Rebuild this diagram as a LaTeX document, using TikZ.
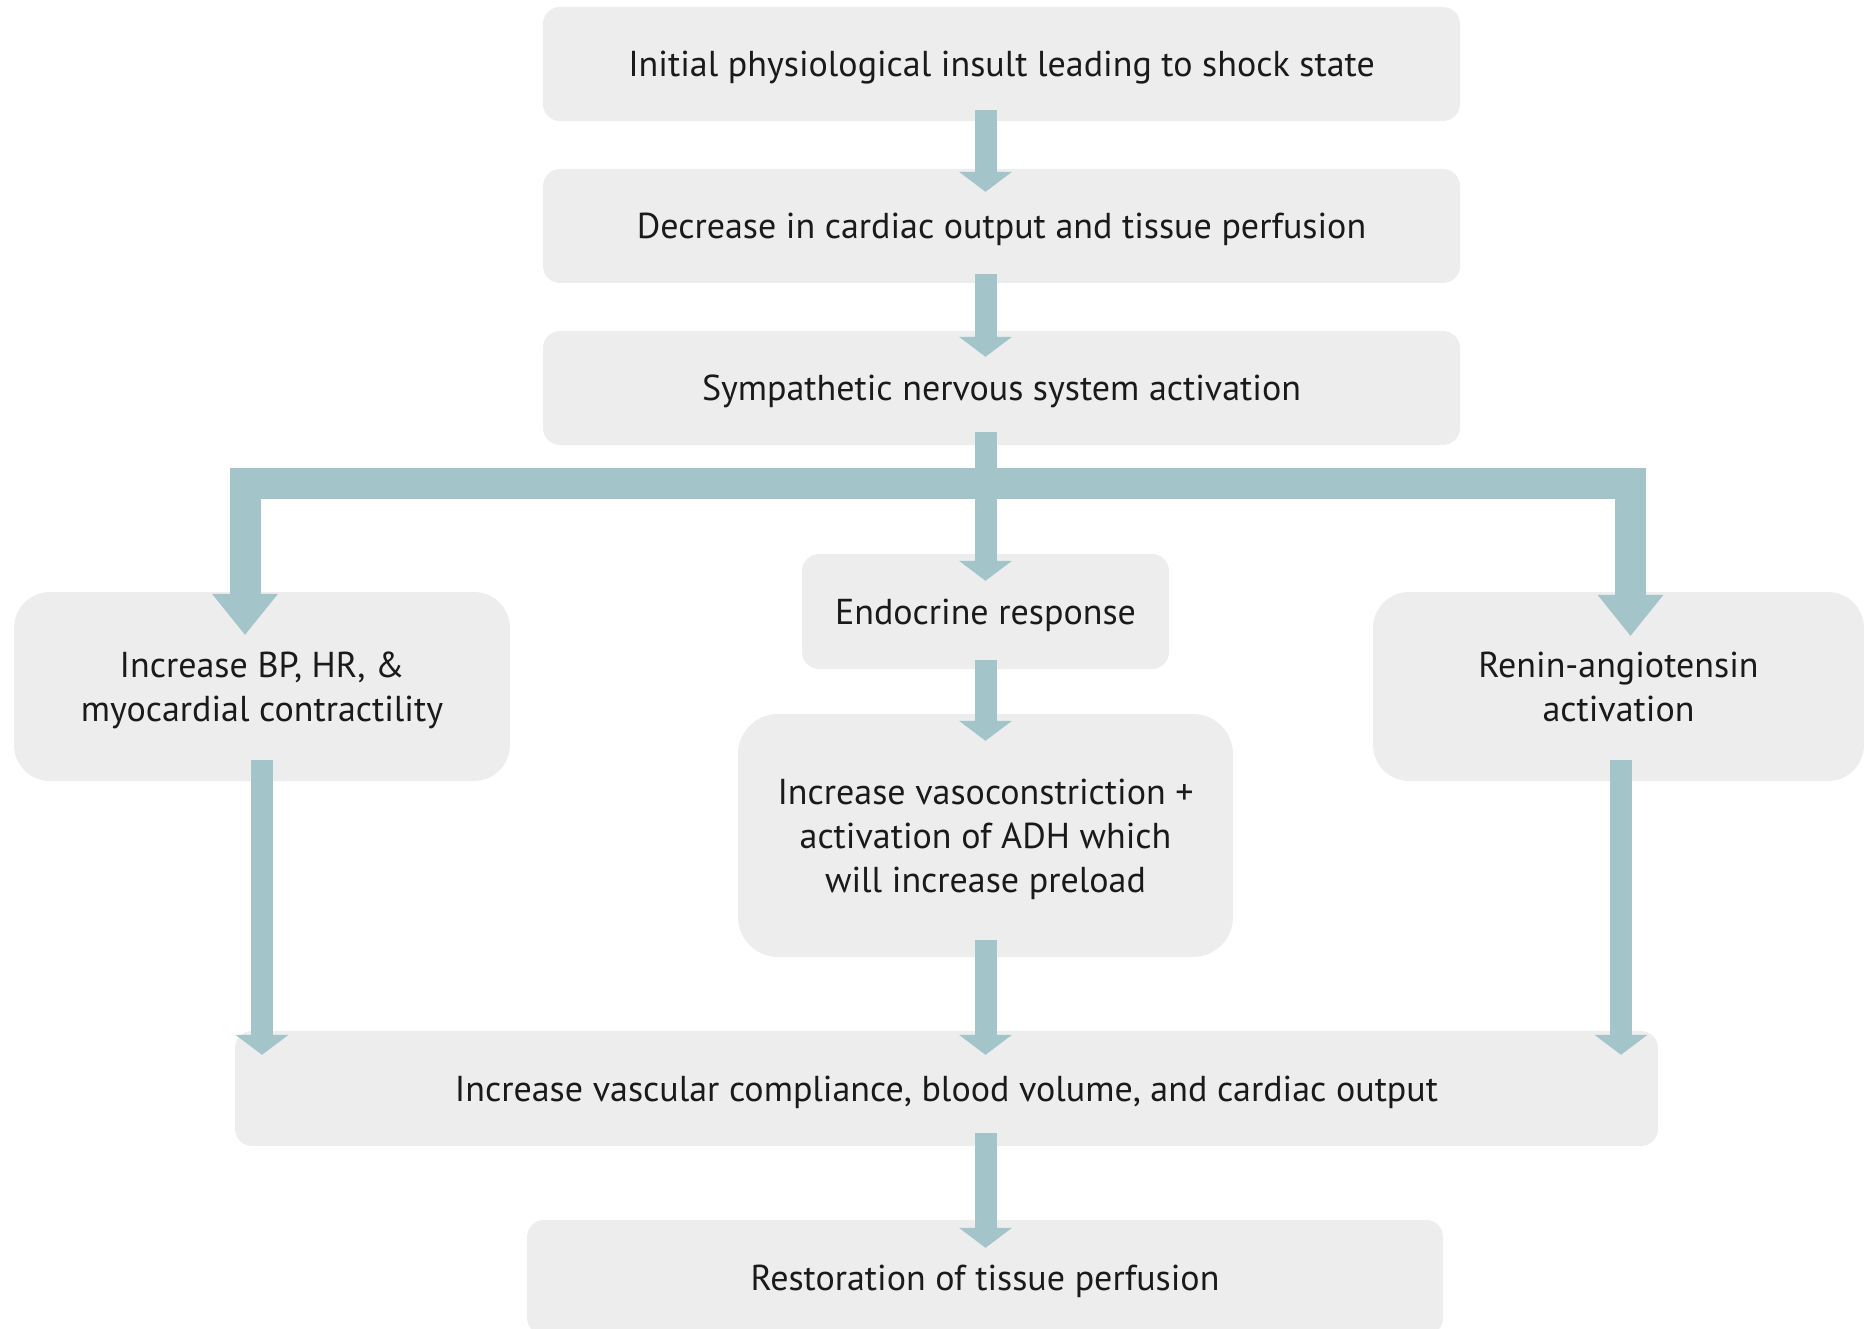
\documentclass[tikz,border=0pt]{standalone}
\usepackage{fontspec}
\setmainfont{PT Sans}
\usetikzlibrary{arrows.meta,calc}
\definecolor{boxgray}{HTML}{EDEDED}
\definecolor{arrowc}{HTML}{A3C4C9}
\definecolor{txt}{HTML}{1A1A1A}
\begin{document}
\begin{tikzpicture}[x=1pt,y=-1pt,
  box/.style={fill=boxgray, rounded corners=17pt, inner sep=0pt, align=center, text=txt,
    text depth=0pt, font=\fontsize{36}{44}\selectfont},
  bigbox/.style={box, rounded corners=36pt},
  fat/.style={draw=arrowc, line width=22pt, -{Triangle[width=53pt,length=20pt,line width=0pt]}},
  wide/.style={draw=arrowc, line width=31pt, line join=miter,
    {Triangle[width=66pt,length=41pt,line width=0pt]}-{Triangle[width=66pt,length=41pt,line width=0pt]}}]
\useasboundingbox (0,0) rectangle (1864,1329);
\node[box, minimum width=917pt, minimum height=114pt] (b1) at (1001.5,64) {Initial physiological insult leading to shock state};
\node[box, minimum width=917pt, minimum height=114pt] (b2) at (1001.5,226) {Decrease in cardiac output and tissue perfusion};
\node[box, minimum width=917pt, minimum height=114pt] (b3) at (1001.5,388) {Sympathetic nervous system activation};
\node[box, minimum width=367pt, minimum height=115pt] (endo) at (985.5,611.5) {Endocrine response};
\node[bigbox, minimum width=496pt, minimum height=189pt] (L) at (262,686.5) {Increase BP, HR, \&\\myocardial contractility};
\node[bigbox, minimum width=491pt, minimum height=189pt] (R) at (1618.5,686.5) {Renin-angiotensin\\activation};
\node[bigbox, rounded corners=40pt, minimum width=495pt, minimum height=243pt] (mid) at (985.5,835.5) {Increase vasoconstriction +\\activation of ADH which\\will increase preload};
\node[box, minimum width=1423pt, minimum height=115pt] (bot) at (946.5,1088.5) {Increase vascular compliance, blood volume, and cardiac output};
\node[box, minimum width=916pt, minimum height=115pt] (rest) at (985,1277.5) {Restoration of tissue perfusion};
% arrows
\draw[fat] ($(b1.south -| endo)+(0,-11)$) -- ($(b2.north -| endo)+(0,23)$);
\draw[fat] ($(b2.south -| endo)+(0,-9)$) -- ($(b3.north -| endo)+(0,26)$);
\draw[fat] ($(b3.south -| endo)+(0,-13)$) -- ($(endo.north)+(0,27)$);
\draw[wide] ($(L.north)+(-17,43)$) -- ($(L.north)+(-17,-108.5)$) -- ($(R.north)+(12,-108.5)$) -- ($(R.north)+(12,44)$);
\draw[fat] ($(endo.south)+(0,-9)$) -- ($(mid.north)+(0,27)$);
\draw[fat] ($(L.south)+(0,-21)$) -- ($(bot.north -| L)+(0,24)$);
\draw[fat] ($(mid.south)+(0,-17)$) -- ($(bot.north -| mid)+(0,24)$);
\draw[fat] ($(R.south)+(2.5,-21)$) -- ($(bot.north -| R)+(2.5,24)$);
\draw[fat] ($(bot.south -| endo)+(0,-13)$) -- ($(rest.north -| endo)+(0,28)$);
\end{tikzpicture}
\end{document}
